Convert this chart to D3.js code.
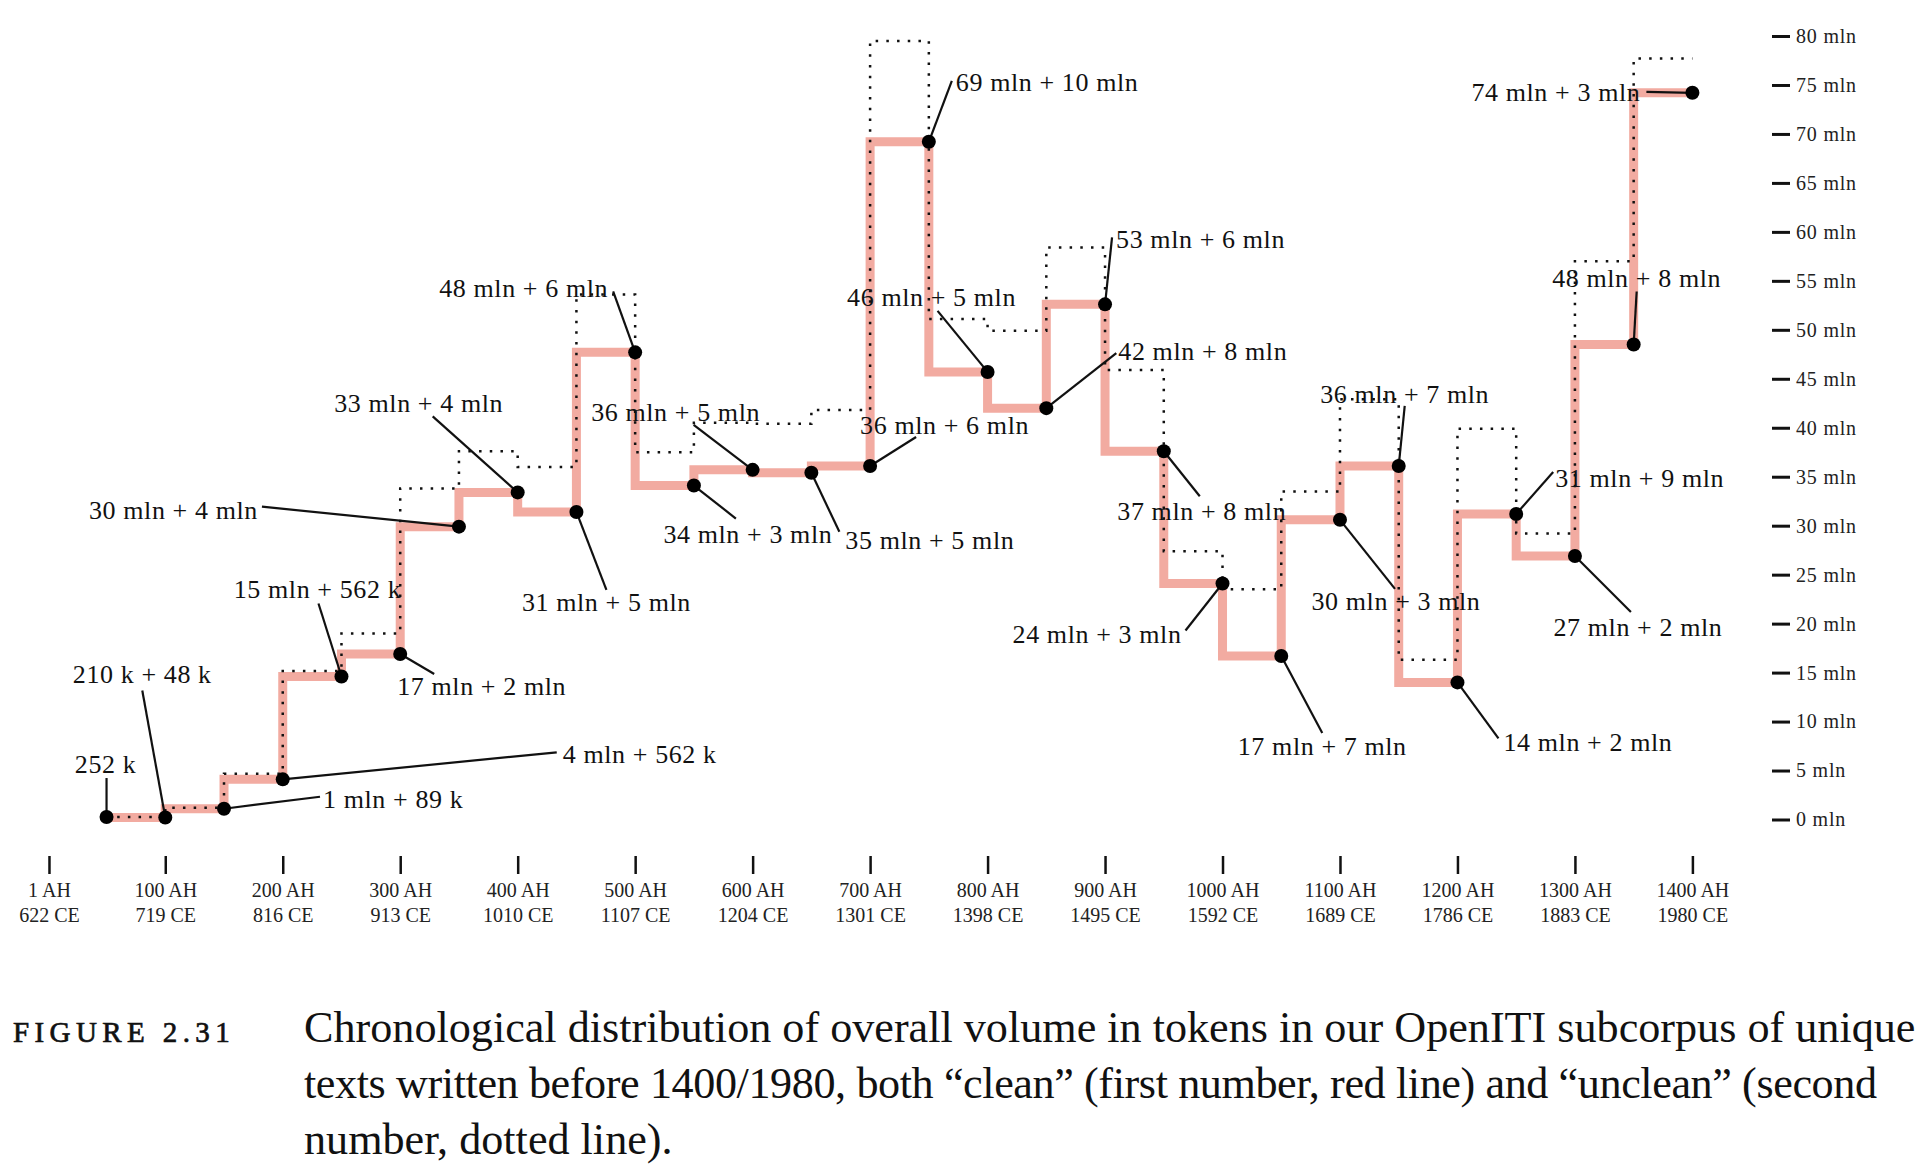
<!DOCTYPE html>
<html>
<head>
<meta charset="utf-8">
<script src="https://cdn.jsdelivr.net/npm/d3@7"></script>
<style>
  body { margin: 0; background: #fff; }
  svg { display: block; font-family: "Liberation Serif", serif; }
</style>
</head>
<body>
<div id="chart"></div>
<script>
/*************************************/
/* Data                              */
/*************************************/

// hijri year (end of each 50 year period)
const years = [50, 100, 150, 200, 250, 300, 350, 400, 450, 500, 550, 600, 650, 700,
  750, 800, 850, 900, 950, 1000, 1050, 1100, 1150, 1200, 1250, 1300, 1350, 1400];

// "clean" tokens, millions
const clean = [0.252, 0.21, 1.1, 4.1, 14.6, 16.9, 29.9, 33.4, 31.4, 47.7, 34.1, 35.7, 35.4, 36.1,
  69.2, 45.7, 42.0, 52.6, 37.6, 24.1, 16.7, 30.6, 36.1, 14.0, 31.2, 26.9, 48.5, 74.2];

// "unclean" tokens, millions
const unclean = [0, 0.048, 0.089, 0.562, 0.562, 2.1, 3.9, 4.2, 4.6, 5.9, 3.4, 4.8, 5.0, 5.7,
  10.3, 5.4, 7.9, 5.8, 8.3, 3.3, 6.8, 2.9, 6.8, 2.3, 8.7, 2.3, 8.5, 3.5];

const pointLabels = ['252 k', '210 k + 48 k', '1 mln + 89 k', '4 mln + 562 k', '15 mln + 562 k',
  '17 mln + 2 mln', '30 mln + 4 mln', '33 mln + 4 mln', '31 mln + 5 mln', '48 mln + 6 mln',
  '34 mln + 3 mln', '36 mln + 5 mln', '35 mln + 5 mln', '36 mln + 6 mln', '69 mln + 10 mln',
  '46 mln + 5 mln', '42 mln + 8 mln', '53 mln + 6 mln', '37 mln + 8 mln', '24 mln + 3 mln',
  '17 mln + 7 mln', '30 mln + 3 mln', '36 mln + 7 mln', '14 mln + 2 mln', '31 mln + 9 mln',
  '27 mln + 2 mln', '48 mln + 8 mln', '74 mln + 3 mln'];

// x axis ticks
const ahTicks = [1, 100, 200, 300, 400, 500, 600, 700, 800, 900, 1000, 1100, 1200, 1300, 1400];
const ceTicks = [622, 719, 816, 913, 1010, 1107, 1204, 1301, 1398, 1495, 1592, 1689, 1786, 1883, 1980];

// y axis ticks
const mlnTicks = [0, 5, 10, 15, 20, 25, 30, 35, 40, 45, 50, 55, 60, 65, 70, 75, 80];

const captionLines = [
  'Chronological distribution of overall volume in tokens in our OpenITI subcorpus of unique',
  'texts written before 1400/1980, both \u201cclean\u201d (first number, red line) and \u201cunclean\u201d (second',
  'number, dotted line).'
];


/*************************************/
/* Label placement (px from point)   */
/*************************************/

// [text dx, text dy, anchor, leader end dx, leader end dy]
const labelPlacement = [
  [-1, -44, 'middle', 0, -39], [-23, -134, 'middle', -23, -127], [99, -1, 'start', 96, -12],
  [280, -16, 'start', 274, -27], [-24, -79, 'middle', -23, -73], [-3, 41, 'start', 34, 20],
  [-201, -8, 'end', -197, -20], [-99, -80, 'middle', -85, -76], [30, 99, 'middle', 30, 78],
  [-27, -55, 'end', -22, -61], [54, 57, 'middle', 42, 33], [-77, -49, 'middle', -59, -45],
  [34, 76, 'start', 28, 59], [-10, -32, 'start', 46, -29], [27, -51, 'start', 23, -61],
  [-56, -66, 'middle', -50, -61], [72, -48, 'start', 70, -55], [11, -56, 'start', 7, -67],
  [38, 69, 'middle', 36, 45], [-41, 60, 'end', -37, 47], [41, 99, 'middle', 41, 77],
  [56, 90, 'middle', 55, 69], [6, -63, 'middle', 6, -60], [46, 69, 'start', 41, 56],
  [39, -27, 'start', 37, -42], [63, 80, 'middle', 56, 56], [3, -58, 'middle', 3, -53],
  [-52, 8, 'end', -46, -1]
];


/*************************************/
/* Setup                             */
/*************************************/

const width = 1920;
const height = 1175;

const rows = years.map((yr, i) => ({
  year: yr,
  clean: clean[i],
  total: clean[i] + unclean[i],
  label: pointLabels[i],
  place: labelPlacement[i]
}));

const x = d3.scaleLinear().domain([0, 1400]).range([47.8, 1692.4]);
const y = d3.scaleLinear().domain([0, 80]).range([819.5, 36]);

const svg = d3.select('#chart')
  .append('svg')
  .attr('width', width)
  .attr('height', height)
  .attr('viewBox', [0, 0, width, height]);


/*************************************/
/* Axes                              */
/*************************************/

const yAxis = svg.append('g')
  .attr('transform', 'translate(1772,0)')
  .call(d3.axisRight(y).tickValues(mlnTicks).tickSize(18).tickPadding(6)
    .tickFormat(d => d + ' mln'));
yAxis.select('.domain').remove();
yAxis.selectAll('line').attr('stroke', '#111').attr('stroke-width', 3);
yAxis.selectAll('text')
  .attr('font-family', 'Liberation Serif')
  .attr('font-size', 20)
  .attr('letter-spacing', 0.8)
  .attr('fill', '#222');

const xAxis = svg.append('g')
  .attr('transform', 'translate(0,856)')
  .call(d3.axisBottom(x).tickValues(ahTicks).tickSize(18).tickFormat(''));
xAxis.select('.domain').remove();
xAxis.selectAll('line').attr('stroke', '#111').attr('stroke-width', 2.5);

const xLab = xAxis.selectAll('.tick').append('text')
  .attr('text-anchor', 'middle')
  .attr('font-family', 'Liberation Serif')
  .attr('font-size', 20)
  .attr('fill', '#222');
xLab.append('tspan').attr('x', 0).attr('y', 41).text(d => d + ' AH');
xLab.append('tspan').attr('x', 0).attr('y', 66).text((d, i) => ceTicks[i] + ' CE');


/*************************************/
/* Lines                             */
/*************************************/

const cleanLine = d3.line()
  .curve(d3.curveStepBefore)
  .x(d => x(d.year))
  .y(d => y(d.clean));

const totalLine = d3.line()
  .curve(d3.curveStepBefore)
  .x(d => x(d.year))
  .y(d => y(d.total));

svg.append('path')
  .datum(rows)
  .attr('d', cleanLine)
  .attr('fill', 'none')
  .attr('stroke', '#f2aba1')
  .attr('stroke-width', 9);

svg.append('path')
  .datum(rows)
  .attr('d', totalLine)
  .attr('fill', 'none')
  .attr('stroke', '#111')
  .attr('stroke-width', 2.5)
  .attr('stroke-dasharray', '2.5 8.2');


/*************************************/
/* Leaders, points, labels           */
/*************************************/

svg.append('g')
  .selectAll('line')
  .data(rows)
  .join('line')
    .attr('x1', d => x(d.year))
    .attr('y1', d => y(d.clean))
    .attr('x2', d => x(d.year) + d.place[3])
    .attr('y2', d => y(d.clean) + d.place[4])
    .attr('stroke', '#111')
    .attr('stroke-width', 2.2);

svg.append('g')
  .selectAll('circle')
  .data(rows)
  .join('circle')
    .attr('cx', d => x(d.year))
    .attr('cy', d => y(d.clean))
    .attr('r', 7)
    .attr('fill', '#000');

svg.append('g')
  .selectAll('text')
  .data(rows)
  .join('text')
    .attr('x', d => x(d.year) + d.place[0])
    .attr('y', d => y(d.clean) + d.place[1])
    .attr('text-anchor', d => d.place[2])
    .attr('font-size', 26)
    .attr('letter-spacing', 0.6)
    .attr('fill', '#111')
    .text(d => d.label);


/*************************************/
/* Caption                           */
/*************************************/

svg.append('text')
  .attr('x', 13)
  .attr('y', 1042)
  .attr('font-size', 29)
  .attr('letter-spacing', 5.4)
  .attr('fill', '#111')
  .attr('stroke', '#111')
  .attr('stroke-width', 0.7)
  .text('FIGURE 2.31');

const caption = svg.append('text')
  .attr('font-size', 40)
  .attr('fill', '#111');
const captionRows = caption.selectAll('tspan')
  .data(captionLines)
  .join('tspan')
    .attr('x', 304)
    .attr('y', (d, i) => 1042 + i * 56)
    .text(d => d);

// fit the caption's first line to the page width, second line to its own width
const firstLen = captionRows.nodes()[0].getComputedTextLength();
caption.attr('font-size', 40 * 1612 / firstLen);
d3.select(captionRows.nodes()[1])
  .attr('textLength', 1573)
  .attr('lengthAdjust', 'spacing');
</script>
</body>
</html>
